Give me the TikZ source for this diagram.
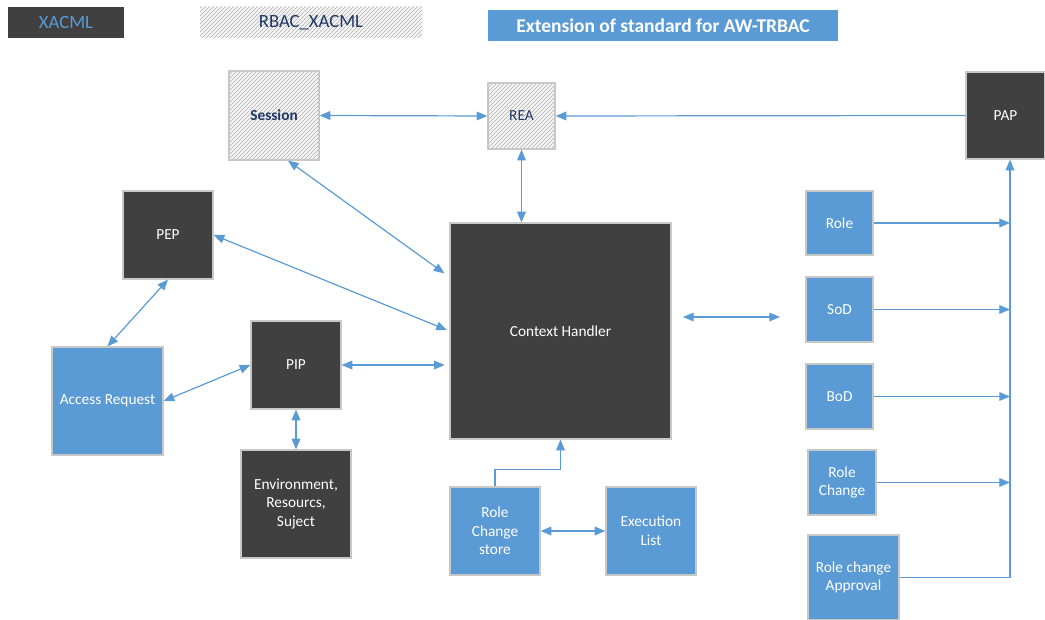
\documentclass[tikz,border=0pt]{standalone}
\usepackage{fontspec}
\setmainfont{Carlito}
\usepackage{tikz}
\usetikzlibrary{shapes}
\usetikzlibrary{arrows.meta}
\usetikzlibrary{positioning}
\usetikzlibrary{calc}
\usetikzlibrary{patterns}
\definecolor{xacml}{HTML}{404040}
\definecolor{awtrbac}{HTML}{5B9BD5}
\definecolor{rbacfg}{HTML}{1F3864}
\definecolor{edge}{HTML}{C8C8C8}
\begin{document}
\begin{tikzpicture}[x=0.75pt,y=-0.75pt,
  lnk/.style ={
    draw=awtrbac,line width=0.9pt,-{Triangle[length=8pt,width=6.5pt]}
  },
  lnk2/.style ={
    lnk,{Triangle[length=8pt,width=6.5pt]}-{Triangle[length=8pt,width=6.5pt]}
  },
  box/.style 2 args={
    rectangle,
    draw=edge,
    line width=0.9pt,
    minimum width=#1*0.75pt,
    minimum height=#2*0.75pt,
    inner sep=1pt,
    align=center,
    font=\fontsize{11.5}{14}\selectfont},
  blk/.style 2 args={
    box={#1}{#2},
    fill=xacml,
    text=white},
  ext/.style 2 args={
    box={#1}{#2},
    fill=awtrbac,
    text=white},
  rbac/.style 2 args={
    box={#1}{#2},
    preaction={fill=gray!8},
    pattern=north east lines,
    pattern color=gray!60,
    text=rbacfg},
  legend/.style={
    draw=none,
    font=\fontsize{14}{16}\selectfont},
]

  \useasboundingbox (0,0) rectangle (1045,620);
  \def\busx{1010}%

    % Legend
    \node[blk={116}{31},legend,text=awtrbac] (lgxacml) at (66,22.5) {XACML};
    \node[rbac={222}{31},legend] (lgrbac) at (311,22.5) {RBAC\_XACML};
    \node[ext={350}{31},legend,font=\fontsize{14.6}{16}\selectfont\bfseries] (lgext) 
        at (663,25.5) {Extension of standard for AW-TRBAC};

    % RBAC_XACML components
    \node[rbac={90}{89},font=\fontsize{11.5}{14}\selectfont\bfseries] (session) 
        at (274,115.5) {Session};
    \node[rbac={67}{66}] (rea) at (521.5,116) {REA};

    % XACML components
    \node[blk={79}{87}] (pap) at (1005.5,115.5) {PAP};
    \node[blk={90}{88}] (pep) at (168,235) {PEP};
    \node[blk={221}{216}] (ctx) at (560.5,331) {Context Handler};
    \node[blk={90}{88}] (pip) at (296,365) {PIP};
    \node[blk={110}{108}] (env) at (296,504) {Environment,\\Resourcs,\\Suject};

    % AW-TRBAC extension
    \node[ext={111}{108}] (access) at (107.5,401) {Access Request};
    \node[ext={90}{88}] (rcstore) at (495,531) {Role\\Change\\store};
    \node[ext={90}{88}] (execlist) at (651,531) {Execution\\List};
    \node[ext={67}{64}] (role) at (839.5,223) {Role};
    \node[ext={67}{65}] (sod) at (839.5,309.5) {SoD};
    \node[ext={67}{65}] (bod) at (839.5,396.5) {BoD};
    \node[ext={68}{65}] (rchange) at (842,482.5) {Role\\Change};
    \node[ext={91}{85}] (rapproval) at (853.5,577.5) {Role change\\Approval};

    \coordinate (bus) at (\busx,0);
    \coordinate (chleft) at (683,317);
    \coordinate (chright) at (780,317);

    % Connectors
    \draw[lnk2] (session.east) -- (rea.west);
    \draw[lnk] (pap.west) -- (rea.east);
    \draw[lnk2] (rea.south) -- (rea.south |- ctx.north);
    \draw[lnk2] ($(session.south)+(14,0)$) -- ($(ctx.north west)+(-5,51)$);
    \draw[lnk2,shorten >=2pt] (pep.east) -- (ctx.west);
    \draw[lnk2] (pep.south) -- (access.north);
    \draw[lnk2] (access.east) -- (pip.west);
    \draw[lnk2,shorten >=3.5pt] (pip.east) -- (pip.east -| ctx.west);
    \draw[lnk2] (pip.south) -- (env.north);
    \draw[lnk2] (chleft) -- (chright);
    \draw[lnk] (rcstore.north) -- ++(0,-17) -| (ctx.south);
    \draw[lnk2] (rcstore.east) -- (execlist.west);

    \foreach \src in {role,sod,bod,rchange} {
        \draw[lnk] (\src.east) -- (\src.east -| bus);
    }
    \draw[lnk] (rapproval.east) -- (rapproval.east -| bus) -- (bus |- pap.south);

\end{tikzpicture}
\end{document}
